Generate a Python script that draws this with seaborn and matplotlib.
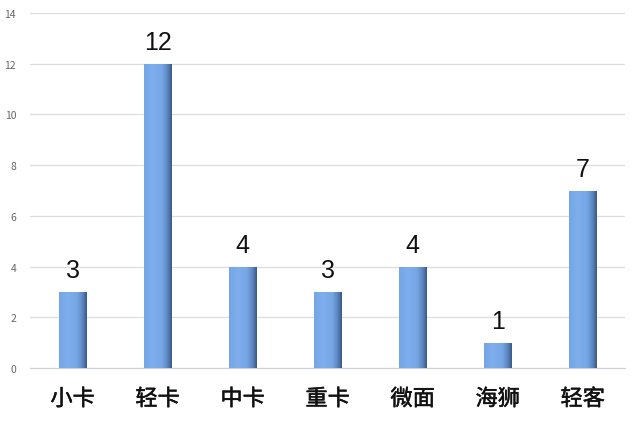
import numpy as np
import pandas as pd
import seaborn as sns
import matplotlib.pyplot as plt
import matplotlib.patheffects as pe
from matplotlib.colors import LinearSegmentedColormap

# vehicle types and counts
categories = ['小卡', '轻卡', '中卡', '重卡', '微面', '海狮', '轻客']
counts = [3, 12, 4, 3, 4, 1, 7]
y_ticks = [0, 2, 4, 6, 8, 10, 12, 14]

df = pd.DataFrame({'type': categories, 'count': counts})

sns.set_style('white')
plt.rcParams['font.family'] = ['Noto Sans CJK SC', 'DejaVu Sans']

fig = plt.figure(figsize=(6.4, 4.27), dpi=100)
ax = fig.add_axes([0.047, 0.136, 0.93, 0.831])

sns.barplot(data=df, x='type', y='count', color='#78a9e6', width=0.32,
            saturation=1, ax=ax, zorder=3)

# shading on each bar: flat light blue, darkening at the right edge
cmap = LinearSegmentedColormap.from_list(
    'bar', [(0, '#74a5e4'), (0.3, '#7eaeec'), (0.65, '#76a6e5'), (0.85, '#5c86c0'), (1, '#3a5a88')])
grad = np.linspace(0, 1, 64).reshape(1, -1)
for p in ax.patches:
    x0, y0 = p.get_x(), p.get_y()
    w, h = p.get_width(), p.get_height()
    im = ax.imshow(grad, cmap=cmap, aspect='auto', extent=[x0, x0 + w, y0, y0 + h],
                   zorder=4)
    im.set_clip_path(p)
    ax.text(x0 + w / 2, h + 0.38, str(int(h)), ha='center', va='bottom',
            fontsize=18, color='#111111', zorder=5, family='Liberation Sans')

ax.set_xlim(-0.5, len(categories) - 0.5)
ax.set_ylim(0, 14)
ax.set_yticks(y_ticks)
ax.yaxis.grid(True, color='#dddddd', linewidth=0.9, zorder=0)
ax.set_axisbelow(True)
for s in ['top', 'right', 'left']:
    ax.spines[s].set_visible(False)
ax.spines['bottom'].set_color('#d0d0d0')
ax.tick_params(axis='y', labelsize=7.5, colors='#666666', length=0, pad=10)
ax.tick_params(axis='x', labelsize=16, colors='#111111', length=0, pad=14)
# slightly heavier than regular, lighter than bold
for lab in ax.get_xticklabels():
    lab.set_path_effects([pe.withStroke(linewidth=0.35, foreground='#111111')])
ax.set_xlabel('')
ax.set_ylabel('')

fig.savefig('out.png', dpi=100)
